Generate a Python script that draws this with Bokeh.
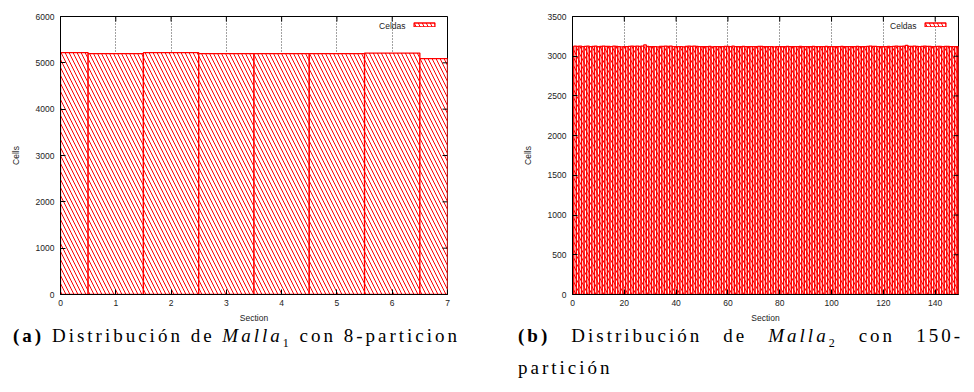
from bokeh.plotting import figure
from bokeh.models import Range1d, FixedTicker, Legend, LegendItem, Label, Div
from bokeh.layouts import row, column
from bokeh.core.properties import value
from bokeh.embed import file_html
from bokeh.resources import INLINE

# ---------------- data ----------------
sections1 = [0, 1, 2, 3, 4, 5, 6, 7]
cells1 = [5220, 5200, 5220, 5200, 5200, 5200, 5210, 5090]
xticks1 = [0, 1, 2, 3, 4, 5, 6, 7]
yticks1 = [0, 1000, 2000, 3000, 4000, 5000, 6000]

sections2 = list(range(150))
cells2 = [
    3120, 3126, 3122, 3128, 3121, 3125, 3127, 3120, 3124, 3126,
    3119, 3124, 3127, 3123, 3125, 3121, 3126, 3124, 3120, 3118,
    3121, 3120, 3125, 3127, 3124, 3126, 3123, 3128, 3142, 3122,
    3119, 3120, 3121, 3118, 3122, 3125, 3127, 3124, 3126, 3120,
    3119, 3121, 3120, 3118, 3122, 3126, 3124, 3127, 3125, 3120,
    3119, 3121, 3120, 3122, 3118, 3121, 3120, 3119, 3121, 3122,
    3124, 3120, 3126, 3121, 3119, 3120, 3122, 3121, 3119, 3120,
    3121, 3120, 3125, 3122, 3120, 3119, 3121, 3120, 3118, 3121,
    3120, 3119, 3121, 3122, 3120, 3119, 3121, 3120, 3122, 3119,
    3121, 3120, 3119, 3122, 3120, 3121, 3119, 3120, 3122, 3121,
    3120, 3119, 3121, 3120, 3122, 3119, 3121, 3120, 3119, 3121,
    3122, 3120, 3119, 3121, 3124, 3126, 3125, 3123, 3121, 3120,
    3119, 3121, 3122, 3120, 3124, 3126, 3123, 3125, 3127, 3136,
    3124, 3122, 3126, 3123, 3121, 3125, 3127, 3124, 3122, 3120,
    3121, 3125, 3123, 3120, 3122, 3124, 3121, 3120, 3119, 3121,
]
xticks2 = [0, 20, 40, 60, 80, 100, 120, 140]
yticks2 = [0, 500, 1000, 1500, 2000, 2500, 3000, 3500]

x_label = "Section"
y_label = "Cells"
legend_text = "Celdas"

SANS = "Liberation Sans"
TXT = "#222222"
FH = 278     # frame height (px)
TICK = 5     # inward tick length (px)


def make_panel(sections, cells, xmax, ymax, xticks, yticks, fw, bl, br):
    p = figure(output_backend="svg", toolbar_location=None,
               frame_width=fw, frame_height=FH,
               min_border_left=bl, min_border_right=br,
               min_border_top=16, min_border_bottom=31,
               x_range=Range1d(0, xmax), y_range=Range1d(0, ymax),
               x_axis_label=x_label, y_axis_label=y_label)
    p.background_fill_color = "white"
    p.border_fill_color = "white"
    p.outline_line_color = "black"
    p.outline_line_width = 1
    # pixel-unit helper ranges for the mirrored (top / right) tick marks
    p.extra_x_ranges = {"px": Range1d(0, fw)}
    p.extra_y_ranges = {"px": Range1d(0, FH)}

    r = p.vbar(x=sections, top=cells, bottom=0, width=1,
               fill_color="white", line_color="red", line_width=1.3,
               hatch_pattern="\\", hatch_color="red", hatch_scale=8,
               hatch_weight=1)

    p.ygrid.visible = False
    p.xgrid.ticker = FixedTicker(ticks=xticks)
    p.xgrid.grid_line_color = "#444444"
    p.xgrid.grid_line_dash = "1 2"
    p.xgrid.grid_line_width = 1

    for ax, ticks in ((p.xaxis[0], xticks), (p.yaxis[0], yticks)):
        ax.ticker = FixedTicker(ticks=ticks)
        ax.major_tick_in = TICK
        ax.major_tick_out = 0
        ax.minor_tick_in = 0
        ax.minor_tick_out = 0
        ax.axis_line_color = "black"
        ax.major_tick_line_color = "black"
        ax.major_label_text_font = SANS
        ax.major_label_text_font_size = "8.5px"
        ax.major_label_text_color = TXT
        ax.axis_label_text_font = SANS
        ax.axis_label_text_font_size = "8.5px"
        ax.axis_label_text_font_style = "normal"
        ax.axis_label_text_color = TXT
    p.xaxis[0].major_label_standoff = 5
    p.xaxis[0].axis_label_standoff = 4
    p.yaxis[0].major_label_standoff = 6
    p.yaxis[0].axis_label_standoff = 12

    # mirrored tick marks on the top and right frame edges
    p.segment(x0=xticks, x1=xticks, y0=[FH] * len(xticks), y1=[FH - TICK] * len(xticks),
              y_range_name="px", line_color="black", line_width=1)
    p.segment(x0=[fw] * len(yticks), x1=[fw - TICK] * len(yticks), y0=yticks, y1=yticks,
              x_range_name="px", line_color="black", line_width=1)

    legend = Legend(items=[LegendItem(label=value(""), renderers=[r])],
                    location="top_right", margin=6, padding=0, spacing=0,
                    glyph_width=26, glyph_height=5, label_width=4, label_height=5,
                    label_standoff=0, label_text_font_size="1px",
                    border_line_color=None, background_fill_alpha=0)
    p.add_layout(legend)
    p.add_layout(Label(x=fw - 42, y=FH - 25 + 16, x_units="screen", y_units="screen",
                       text=legend_text, text_align="right", text_baseline="middle",
                       text_font=SANS, text_font_size="8.5px", text_color=TXT))
    return p


p1 = make_panel(sections1, cells1, 7, 6000, xticks1, yticks1, 387, 60, 43)
p2 = make_panel(sections2, cells2, 149, 3500, xticks2, yticks2, 386, 82, 16)

sub = '<sub style="font-size:12px; line-height:0;">%s</sub>'
cap_style = ("font-family:'Liberation Serif'; font-size:19px; color:#000; line-height:32px;"
             " margin-top:-5px;")
cap_a = Div(width=490, height=67, margin=0,
            text=('<div style="' + cap_style + ' padding-left:13px; letter-spacing:3px; white-space:nowrap;">'
                  '<b>(a)</b> Distribución de <i>Malla</i>' + sub % "1" + ' con 8-particion</div>'))
cap_b = Div(width=484, height=67, margin=0,
            text=('<div style="' + cap_style + ' padding-left:28px; letter-spacing:3px;">'
                  '<div style="width:445px; text-align:justify; text-align-last:justify; white-space:nowrap;">'
                  '<b>(b)</b> Distribución de <i>Malla</i>' + sub % "2" + ' con 150-</div>'
                  '<div>partición</div></div>'))

layout = row(column(p1, cap_a, spacing=0), column(p2, cap_b, spacing=0), spacing=0)

open("out.html", "w").write(file_html(layout, INLINE))
